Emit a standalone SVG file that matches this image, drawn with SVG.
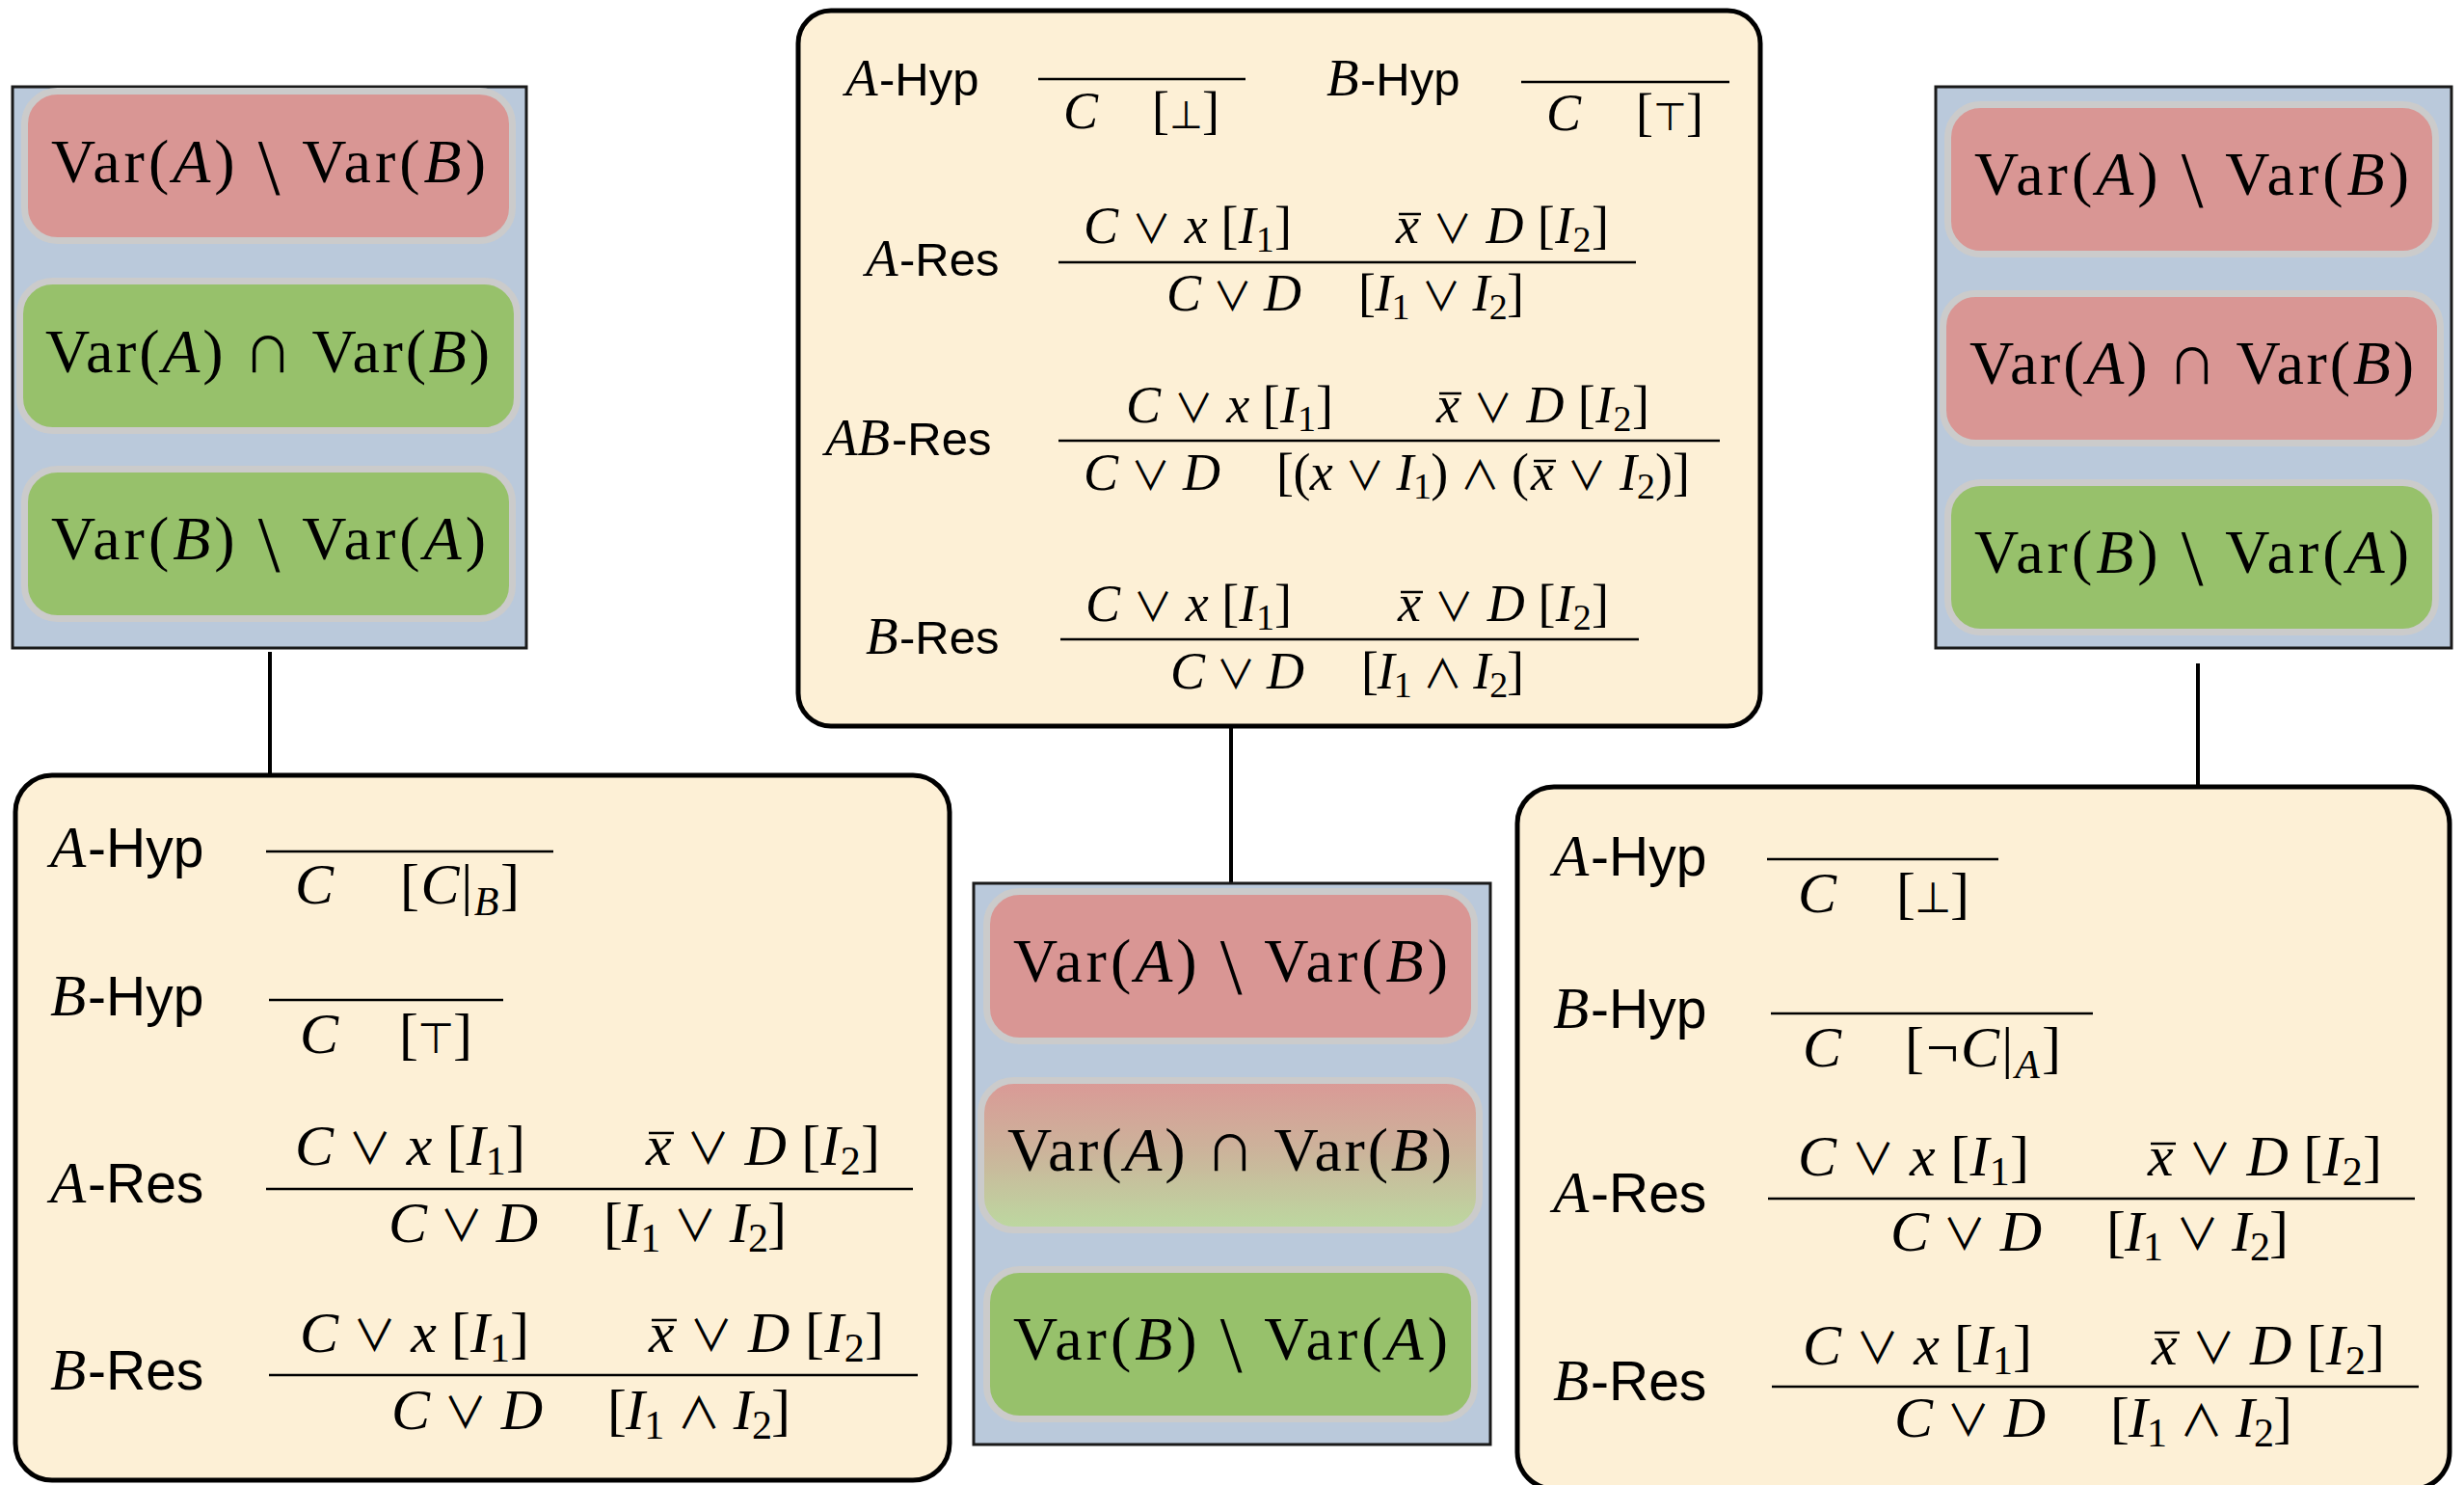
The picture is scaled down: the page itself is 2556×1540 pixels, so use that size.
<svg xmlns="http://www.w3.org/2000/svg" width="2556" height="1540" viewBox="0 0 2556 1540">
  <style>
    .bg { fill: #ffffff; }
    .varbox { fill: #bac9db; stroke: #1a1a1a; stroke-width: 3; }
    .rules { fill: #fdf0d6; stroke: #000; stroke-width: 5; }
    .pill { stroke: #cbcbcb; stroke-width: 7; }
    .red { fill: #d99694; }
    .green { fill: #97c16b; }
    .mixed { fill: url(#mixGrad); }
    .v { font-family: "Liberation Serif", "DejaVu Serif", serif; font-size: 64px; fill: #000; }
    .cap { font-family: "Noto Sans CJK JP", "DejaVu Sans", sans-serif; font-weight: 400; font-size: 50px; }
    .m { font-family: "Liberation Serif", "DejaVu Serif", serif; fill: #000; }
    .c .m { font-size: 54px; }
    .b .m { font-size: 60px; }
    .op { font-family: "Noto Sans CJK JP", "DejaVu Sans", sans-serif; font-weight: 400; }
    .c .op { font-size: 41px; }
    .b .op { font-size: 45px; }
    .sym { font-family: "DejaVu Sans", sans-serif; font-weight: 200; }
    .c .sym { font-size: 40px; }
    .b .sym { font-size: 44px; }
    .lbl { font-family: "Liberation Sans", Arial, sans-serif; fill: #000; }
    .c .lbl { font-size: 49px; }
    .b .lbl { font-size: 57px; }
    .lbl .i { font-family: "Liberation Serif", "DejaVu Serif", serif; }
    .c .lbl .i { font-size: 55px; }
    .b .lbl .i { font-size: 61px; }
    .i { font-style: italic; }
    .c .sub { font-size: 38px; }
    .b .sub { font-size: 42px; }
    .bar { stroke: #000; stroke-width: 2.5; fill: none; }
    .conn { stroke: #000; stroke-width: 4; fill: none; }
  </style>
  <defs>
    <linearGradient id="mixGrad" x1="0" y1="0" x2="0" y2="1">
      <stop offset="0" stop-color="#da9996"/>
      <stop offset="0.5" stop-color="#cbb59b"/>
      <stop offset="1" stop-color="#bcd9a0"/>
    </linearGradient>
  </defs>

  <rect class="bg" x="0" y="0" width="2556" height="1540"/>

  <!-- connectors -->
  <g id="connectors">
    <line class="conn" x1="280" y1="676" x2="280" y2="804"/>
    <line class="conn" x1="1277" y1="753" x2="1277" y2="916"/>
    <line class="conn" x1="2280" y1="688" x2="2280" y2="816"/>
  </g>

  <!-- variable partition, left -->
  <g id="vars-left">
    <rect class="varbox" x="13" y="90" width="533" height="582"/>
    <rect class="pill red" x="25.5" y="94.5" width="506" height="155" rx="34"/>
    <rect class="pill green" x="20.5" y="291.5" width="516" height="155" rx="34"/>
    <rect class="pill green" x="25.5" y="486.5" width="506" height="155" rx="34"/>
    <text class="v" x="53" y="189" textLength="451">Var(<tspan class="i">A</tspan>) <tspan font-size="82" dy="12">\</tspan><tspan dy="-12"> Var(</tspan><tspan class="i">B</tspan>)</text>
    <text class="v" x="47" y="386" textLength="461">Var(<tspan class="i">A</tspan>) <tspan class="cap">∩</tspan> Var(<tspan class="i">B</tspan>)</text>
    <text class="v" x="53" y="580" textLength="451">Var(<tspan class="i">B</tspan>) <tspan font-size="82" dy="12">\</tspan><tspan dy="-12"> Var(</tspan><tspan class="i">A</tspan>)</text>
  </g>

  <!-- variable partition, middle -->
  <g id="vars-middle">
    <rect class="varbox" x="1010" y="916" width="536" height="582"/>
    <rect class="pill red" x="1023.5" y="924.5" width="506" height="155" rx="34"/>
    <rect class="pill mixed" x="1017.5" y="1120.5" width="517" height="155" rx="34"/>
    <rect class="pill green" x="1023.5" y="1316.5" width="506" height="155" rx="34"/>
    <text class="v" x="1051" y="1018" textLength="451">Var(<tspan class="i">A</tspan>) <tspan font-size="82" dy="12">\</tspan><tspan dy="-12"> Var(</tspan><tspan class="i">B</tspan>)</text>
    <text class="v" x="1045" y="1214" textLength="461">Var(<tspan class="i">A</tspan>) <tspan class="cap">∩</tspan> Var(<tspan class="i">B</tspan>)</text>
    <text class="v" x="1051" y="1410" textLength="451">Var(<tspan class="i">B</tspan>) <tspan font-size="82" dy="12">\</tspan><tspan dy="-12"> Var(</tspan><tspan class="i">A</tspan>)</text>
  </g>

  <!-- variable partition, right -->
  <g id="vars-right">
    <rect class="varbox" x="2008" y="90" width="535" height="582"/>
    <rect class="pill red" x="2020.5" y="108.5" width="506" height="155" rx="34"/>
    <rect class="pill red" x="2015.5" y="304.5" width="516" height="155" rx="34"/>
    <rect class="pill green" x="2020.5" y="500.5" width="506" height="155" rx="34"/>
    <text class="v" x="2048" y="202" textLength="451">Var(<tspan class="i">A</tspan>) <tspan font-size="82" dy="12">\</tspan><tspan dy="-12"> Var(</tspan><tspan class="i">B</tspan>)</text>
    <text class="v" x="2043" y="398" textLength="461">Var(<tspan class="i">A</tspan>) <tspan class="cap">∩</tspan> Var(<tspan class="i">B</tspan>)</text>
    <text class="v" x="2048" y="594" textLength="451">Var(<tspan class="i">B</tspan>) <tspan font-size="82" dy="12">\</tspan><tspan dy="-12"> Var(</tspan><tspan class="i">A</tspan>)</text>
  </g>

  <!-- interpolation rules, top (symmetric system) -->
  <g id="rules-top" class="c">
    <rect class="rules" x="828" y="11" width="998" height="742" rx="34"/>
    <text class="lbl" y="99"><tspan class="i" x="877">A</tspan><tspan x="912">-Hyp</tspan></text>
    <line class="bar" x1="1077" y1="82" x2="1292" y2="82"/>
    <text class="m i" x="1103" y="133">C</text>
    <text class="m" x="1195" y="133" textLength="70">[<tspan class="sym">⊥</tspan>]</text>
    <text class="lbl" y="99"><tspan class="i" x="1376">B</tspan><tspan x="1411">-Hyp</tspan></text>
    <line class="bar" x1="1578" y1="85" x2="1794" y2="85"/>
    <text class="m i" x="1604" y="135">C</text>
    <text class="m" x="1697" y="135" textLength="70">[<tspan class="sym">⊤</tspan>]</text>

    <text class="lbl" y="286"><tspan class="i" x="898">A</tspan><tspan x="933">-Res</tspan></text>
    <line class="bar" x1="1098" y1="272" x2="1697" y2="272"/>
    <text class="m" x="1124" y="252" textLength="216"><tspan class="i">C</tspan> <tspan class="op">∨</tspan> <tspan class="i">x</tspan> [<tspan class="i">I</tspan><tspan class="sub" dy="9">1</tspan><tspan dy="-9">]</tspan></text>
    <text class="m" x="1448" y="252" textLength="221"><tspan class="i">x</tspan> <tspan class="op">∨</tspan> <tspan class="i">D</tspan> [<tspan class="i">I</tspan><tspan class="sub" dy="9">2</tspan><tspan dy="-9">]</tspan></text>
    <line class="bar" x1="1451" y1="222" x2="1474" y2="222"/>
    <text class="m" x="1210" y="322" textLength="140"><tspan class="i">C</tspan> <tspan class="op">∨</tspan> <tspan class="i">D</tspan></text>
    <text class="m" x="1409" y="322" textLength="172">[<tspan class="i">I</tspan><tspan class="sub" dy="9">1</tspan><tspan dy="-9"> </tspan><tspan class="op">∨</tspan> <tspan class="i">I</tspan><tspan class="sub" dy="9">2</tspan><tspan dy="-9">]</tspan></text>

    <text class="lbl" y="472"><tspan class="i" x="856">AB</tspan><tspan x="925">-Res</tspan></text>
    <line class="bar" x1="1098" y1="457" x2="1784" y2="457"/>
    <text class="m" x="1168" y="438" textLength="215"><tspan class="i">C</tspan> <tspan class="op">∨</tspan> <tspan class="i">x</tspan> [<tspan class="i">I</tspan><tspan class="sub" dy="9">1</tspan><tspan dy="-9">]</tspan></text>
    <text class="m" x="1490" y="438" textLength="221"><tspan class="i">x</tspan> <tspan class="op">∨</tspan> <tspan class="i">D</tspan> [<tspan class="i">I</tspan><tspan class="sub" dy="9">2</tspan><tspan dy="-9">]</tspan></text>
    <line class="bar" x1="1493" y1="408" x2="1516" y2="408"/>
    <text class="m" x="1124" y="508" textLength="142"><tspan class="i">C</tspan> <tspan class="op">∨</tspan> <tspan class="i">D</tspan></text>
    <text class="m" x="1324" y="508" textLength="262">[(<tspan class="i">x</tspan> <tspan class="op">∨</tspan> <tspan class="i">I</tspan><tspan class="sub" dy="9">1</tspan><tspan dy="-9">) </tspan><tspan class="op">∧</tspan> (</text>
    <text class="m" x="1588" y="508" textLength="165"><tspan class="i">x</tspan> <tspan class="op">∨</tspan> <tspan class="i">I</tspan><tspan class="sub" dy="9">2</tspan><tspan dy="-9">)]</tspan></text>
    <line class="bar" x1="1591" y1="478" x2="1614" y2="478"/>

    <text class="lbl" y="678"><tspan class="i" x="898">B</tspan><tspan x="933">-Res</tspan></text>
    <line class="bar" x1="1100" y1="663" x2="1700" y2="663"/>
    <text class="m" x="1126" y="644" textLength="214"><tspan class="i">C</tspan> <tspan class="op">∨</tspan> <tspan class="i">x</tspan> [<tspan class="i">I</tspan><tspan class="sub" dy="9">1</tspan><tspan dy="-9">]</tspan></text>
    <text class="m" x="1450" y="644" textLength="219"><tspan class="i">x</tspan> <tspan class="op">∨</tspan> <tspan class="i">D</tspan> [<tspan class="i">I</tspan><tspan class="sub" dy="9">2</tspan><tspan dy="-9">]</tspan></text>
    <line class="bar" x1="1453" y1="614" x2="1476" y2="614"/>
    <text class="m" x="1214" y="714" textLength="139"><tspan class="i">C</tspan> <tspan class="op">∨</tspan> <tspan class="i">D</tspan></text>
    <text class="m" x="1412" y="714" textLength="169">[<tspan class="i">I</tspan><tspan class="sub" dy="9">1</tspan><tspan dy="-9"> </tspan><tspan class="op">∧</tspan> <tspan class="i">I</tspan><tspan class="sub" dy="9">2</tspan><tspan dy="-9">]</tspan></text>
  </g>

  <!-- interpolation rules, bottom left -->
  <g id="rules-left" class="b">
    <rect class="rules" x="16" y="804" width="969" height="731" rx="38"/>
    <text class="lbl" y="899"><tspan class="i" x="52">A</tspan><tspan x="91">-Hyp</tspan></text>
    <line class="bar" x1="276" y1="883" x2="574" y2="883"/>
    <text class="m i" x="306" y="937">C</text>
    <text class="m" x="415" y="937" textLength="124">[<tspan class="i">C</tspan>|<tspan class="sub i" dy="12">B</tspan><tspan dy="-12">]</tspan></text>
    <text class="lbl" y="1053"><tspan class="i" x="52">B</tspan><tspan x="91">-Hyp</tspan></text>
    <line class="bar" x1="279" y1="1037" x2="522" y2="1037"/>
    <text class="m i" x="311" y="1092">C</text>
    <text class="m" x="414" y="1092" textLength="76">[<tspan class="sym">⊤</tspan>]</text>

    <text class="lbl" y="1247"><tspan class="i" x="52">A</tspan><tspan x="91">-Res</tspan></text>
    <line class="bar" x1="276" y1="1233" x2="947" y2="1233"/>
    <text class="m" x="306" y="1208" textLength="239"><tspan class="i">C</tspan> <tspan class="op">∨</tspan> <tspan class="i">x</tspan> [<tspan class="i">I</tspan><tspan class="sub" dy="10">1</tspan><tspan dy="-10">]</tspan></text>
    <text class="m" x="670" y="1208" textLength="243"><tspan class="i">x</tspan> <tspan class="op">∨</tspan> <tspan class="i">D</tspan> [<tspan class="i">I</tspan><tspan class="sub" dy="10">2</tspan><tspan dy="-10">]</tspan></text>
    <line class="bar" x1="673" y1="1175" x2="699" y2="1175"/>
    <text class="m" x="403" y="1288" textLength="155"><tspan class="i">C</tspan> <tspan class="op">∨</tspan> <tspan class="i">D</tspan></text>
    <text class="m" x="626" y="1288" textLength="190">[<tspan class="i">I</tspan><tspan class="sub" dy="10">1</tspan><tspan dy="-10"> </tspan><tspan class="op">∨</tspan> <tspan class="i">I</tspan><tspan class="sub" dy="10">2</tspan><tspan dy="-10">]</tspan></text>

    <text class="lbl" y="1441"><tspan class="i" x="52">B</tspan><tspan x="91">-Res</tspan></text>
    <line class="bar" x1="279" y1="1426" x2="952" y2="1426"/>
    <text class="m" x="311" y="1402" textLength="238"><tspan class="i">C</tspan> <tspan class="op">∨</tspan> <tspan class="i">x</tspan> [<tspan class="i">I</tspan><tspan class="sub" dy="10">1</tspan><tspan dy="-10">]</tspan></text>
    <text class="m" x="673" y="1402" textLength="244"><tspan class="i">x</tspan> <tspan class="op">∨</tspan> <tspan class="i">D</tspan> [<tspan class="i">I</tspan><tspan class="sub" dy="10">2</tspan><tspan dy="-10">]</tspan></text>
    <line class="bar" x1="676" y1="1369" x2="702" y2="1369"/>
    <text class="m" x="406" y="1482" textLength="157"><tspan class="i">C</tspan> <tspan class="op">∨</tspan> <tspan class="i">D</tspan></text>
    <text class="m" x="630" y="1482" textLength="190">[<tspan class="i">I</tspan><tspan class="sub" dy="10">1</tspan><tspan dy="-10"> </tspan><tspan class="op">∧</tspan> <tspan class="i">I</tspan><tspan class="sub" dy="10">2</tspan><tspan dy="-10">]</tspan></text>
  </g>

  <!-- interpolation rules, bottom right -->
  <g id="rules-right" class="b">
    <rect class="rules" x="1574" y="816" width="967" height="728" rx="38"/>
    <text class="lbl" y="908"><tspan class="i" x="1611">A</tspan><tspan x="1650">-Hyp</tspan></text>
    <line class="bar" x1="1833" y1="891" x2="2073" y2="891"/>
    <text class="m i" x="1865" y="946">C</text>
    <text class="m" x="1967" y="946" textLength="76">[<tspan class="sym">⊥</tspan>]</text>
    <text class="lbl" y="1066"><tspan class="i" x="1611">B</tspan><tspan x="1650">-Hyp</tspan></text>
    <line class="bar" x1="1837" y1="1051" x2="2171" y2="1051"/>
    <text class="m i" x="1870" y="1106">C</text>
    <text class="m" x="1976" y="1106" textLength="162">[¬<tspan class="i">C</tspan>|<tspan class="sub i" dy="12">A</tspan><tspan dy="-12">]</tspan></text>

    <text class="lbl" y="1257"><tspan class="i" x="1611">A</tspan><tspan x="1650">-Res</tspan></text>
    <line class="bar" x1="1834" y1="1243" x2="2505" y2="1243"/>
    <text class="m" x="1865" y="1219" textLength="240"><tspan class="i">C</tspan> <tspan class="op">∨</tspan> <tspan class="i">x</tspan> [<tspan class="i">I</tspan><tspan class="sub" dy="10">1</tspan><tspan dy="-10">]</tspan></text>
    <text class="m" x="2228" y="1219" textLength="243"><tspan class="i">x</tspan> <tspan class="op">∨</tspan> <tspan class="i">D</tspan> [<tspan class="i">I</tspan><tspan class="sub" dy="10">2</tspan><tspan dy="-10">]</tspan></text>
    <line class="bar" x1="2231" y1="1186" x2="2257" y2="1186"/>
    <text class="m" x="1961" y="1297" textLength="157"><tspan class="i">C</tspan> <tspan class="op">∨</tspan> <tspan class="i">D</tspan></text>
    <text class="m" x="2185" y="1297" textLength="189">[<tspan class="i">I</tspan><tspan class="sub" dy="10">1</tspan><tspan dy="-10"> </tspan><tspan class="op">∨</tspan> <tspan class="i">I</tspan><tspan class="sub" dy="10">2</tspan><tspan dy="-10">]</tspan></text>

    <text class="lbl" y="1452"><tspan class="i" x="1611">B</tspan><tspan x="1650">-Res</tspan></text>
    <line class="bar" x1="1838" y1="1438" x2="2509" y2="1438"/>
    <text class="m" x="1870" y="1415" textLength="238"><tspan class="i">C</tspan> <tspan class="op">∨</tspan> <tspan class="i">x</tspan> [<tspan class="i">I</tspan><tspan class="sub" dy="10">1</tspan><tspan dy="-10">]</tspan></text>
    <text class="m" x="2232" y="1415" textLength="242"><tspan class="i">x</tspan> <tspan class="op">∨</tspan> <tspan class="i">D</tspan> [<tspan class="i">I</tspan><tspan class="sub" dy="10">2</tspan><tspan dy="-10">]</tspan></text>
    <line class="bar" x1="2235" y1="1382" x2="2261" y2="1382"/>
    <text class="m" x="1965" y="1490" textLength="157"><tspan class="i">C</tspan> <tspan class="op">∨</tspan> <tspan class="i">D</tspan></text>
    <text class="m" x="2189" y="1490" textLength="189">[<tspan class="i">I</tspan><tspan class="sub" dy="10">1</tspan><tspan dy="-10"> </tspan><tspan class="op">∧</tspan> <tspan class="i">I</tspan><tspan class="sub" dy="10">2</tspan><tspan dy="-10">]</tspan></text>
  </g>
</svg>
